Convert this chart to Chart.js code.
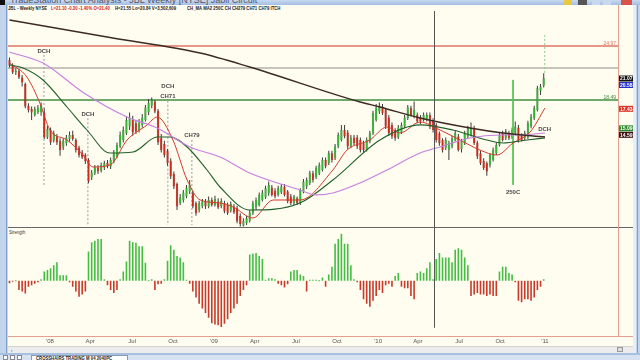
<!DOCTYPE html>
<html>
<head>
<meta charset="utf-8">
<script src="https://cdn.jsdelivr.net/npm/chart.js@4.4.1/dist/chart.umd.min.js"></script>
<style>
  html, body { margin: 0; padding: 0; width: 640px; height: 360px; overflow: hidden;
    background: #c3d5ec; font-family: "Liberation Sans", Arial, sans-serif; }
  .abs { position: absolute; }
  #titlebar { left: 0; top: 0; width: 640px; height: 5px; overflow: hidden;
    background: linear-gradient(#c9daf0, #a3bde2); }
  #titlebar .txt { left: 10px; top: -5px; font-size: 9px; color: #556; white-space: nowrap; }
  #panel { left: 8px; top: 5px; width: 625px; height: 341px; background: #fffcf0; }
  .tiny { white-space: nowrap; font-weight: bold; font-size: 8.5px; line-height: 10px;
    transform: scale(0.5, 0.62); transform-origin: 0 0; }
  canvas { position: absolute; }
</style>
</head>
<body>
<div id="titlebar" class="abs">
  <div class="abs" style="left:0;top:0;width:5px;height:5px;background:#111"></div>
  <div class="abs txt">TradeStation Chart Analysis - JBL Weekly [NYSE] Jabil Circuit</div>
  <div class="abs" style="left:564px;top:0;width:8px;height:5px;background:#e8c840"></div>
  <div class="abs" style="left:578px;top:0;width:9px;height:5px;background:#555"></div>
  <div class="abs" style="left:592px;top:0;width:8px;height:5px;background:#c8d8ee"></div>
  <div class="abs" style="left:603px;top:0;width:8px;height:5px;background:#c8d8ee"></div>
  <div class="abs" style="left:621px;top:0;width:11px;height:5px;background:#d9534a"></div>
</div>
<div class="abs" style="left:6px;top:5px;width:1px;height:350px;background:#7f9fc8"></div>
<div class="abs" style="left:633px;top:5px;width:3px;height:350px;background:#e6eef9"></div>
<div class="abs" style="left:637px;top:5px;width:1px;height:350px;background:#7f9fc8"></div>
<div id="panel" class="abs"></div>

<div class="abs tiny" style="left:8px;top:5px;color:#222">JBL - Weekly NYSE</div>
<div class="abs tiny" style="left:51px;top:5px;color:#d42020">L=21.10 -0.30 -1.40% O=21.40</div>
<div class="abs tiny" style="left:115px;top:5px;color:#222">H=21.55 Lo=20.84 V=3,502,609</div>
<div class="abs tiny" style="left:187px;top:5px;color:#222">CH_MA MA2 250C CH CH279 CH71 CH79 ITCH</div>

<div class="abs" style="left:8px;top:227px;width:625px;height:1px;background:#666"></div>
<div class="abs" style="left:618px;top:5px;width:1px;height:331px;background:#e3a090"></div>
<div class="abs" style="left:8px;top:336px;width:625px;height:1px;background:#e3a090"></div>
<div class="abs tiny" style="left:9px;top:229px;color:#333;font-weight:normal">Strength</div>

<div class="abs" style="left:8px;top:346px;width:625px;height:7px;background:#ececec;border-top:1px solid #d2d2d2;box-sizing:border-box"></div>
<div class="abs tiny" style="left:11px;top:347px;color:#777">&lsaquo;</div>
<div class="abs" style="left:617px;top:347px;width:6px;height:5px;background:#ddd;border:1px solid #999;box-sizing:border-box"></div>
<div class="abs" style="left:0;top:353px;width:640px;height:2px;background:#a8c0e0"></div>
<div class="abs" style="left:0;top:355px;width:640px;height:5px;background:#d6e2f1"></div>
<div class="abs" style="left:3px;top:355px;width:5px;height:5px;background:#fff;border:1px solid #889;box-sizing:border-box"></div>
<div class="abs" style="left:10px;top:355px;width:5px;height:5px;background:#fff;border:1px solid #889;box-sizing:border-box"></div>
<div class="abs" style="left:17px;top:355px;width:5px;height:5px;background:#fff;border:1px solid #889;box-sizing:border-box"></div>
<div class="abs" style="left:31px;top:355px;width:97px;height:6px;background:#fff;border:1px solid #8a9ab0;box-sizing:border-box"></div>
<div class="abs tiny" style="left:36px;top:355px;color:#222">CROSSHAIRS TRADING M 04 2040PC</div>

<canvas id="price" width="626" height="217" style="left:8px;top:11px"></canvas>
<canvas id="strength" width="626" height="118" style="left:8px;top:228px"></canvas>

<script>
'use strict';

// Weekly JBL bars, first bar ~Oct 2007, last ~Jan 2011 (one entry per week).
const opens = [
  23.3, 22.6, 21.8, 22.0, 21.2, 20.4, 17.8, 17.4, 16.7, 17.0,
  17.0, 17.0, 14.0, 14.9, 13.6, 14.1, 13.6, 12.8, 13.3, 13.8,
  14.3, 13.7, 12.8, 12.2, 11.9, 11.3, 9.2, 9.7, 10.4, 10.0,
  10.4, 11.0, 10.5, 11.1, 11.7, 12.9, 13.7, 14.5, 15.3, 16.1,
  15.7, 14.9, 15.5, 16.1, 17.0, 17.8, 18.3, 17.2, 13.9, 13.2,
  12.4, 11.2, 9.6, 8.4, 6.1, 6.5, 6.9, 7.5, 7.3, 6.1,
  5.3, 5.7, 6.3, 5.7, 6.5, 5.9, 6.3, 5.7, 6.1, 5.9,
  5.2, 5.7, 5.5, 4.6, 3.4, 3.7, 4.0, 4.9, 5.6, 5.9,
  6.5, 6.8, 7.3, 8.0, 7.6, 7.1, 7.4, 8.1, 7.5, 6.9,
  6.1, 6.7, 6.1, 7.5, 8.1, 8.5, 9.7, 9.2, 9.7, 10.1,
  11.3, 10.9, 12.1, 11.5, 12.9, 13.7, 14.9, 14.6, 12.9, 14.0,
  14.0, 13.7, 13.3, 12.5, 13.5, 14.5, 16.1, 17.1, 17.7, 17.3,
  16.4, 15.5, 14.9, 14.0, 14.6, 15.3, 16.3, 17.5, 16.5, 16.7,
  16.4, 16.1, 16.2, 16.7, 16.1, 15.5, 14.5, 13.7, 12.7, 12.5,
  12.9, 13.7, 14.1, 12.6, 13.3, 14.1, 14.3, 15.1, 13.4, 12.1,
  11.2, 10.9, 10.7, 11.3, 12.1, 13.1, 14.5, 13.9, 14.5, 14.0,
  14.5, 15.2, 14.2, 13.9, 14.0, 15.3, 16.3, 17.3, 19.6, 20.2
];
const highs = [
  23.6, 22.9, 22.3, 22.2, 21.5, 20.6, 18.1, 17.7, 17.7, 17.9,
  18.2, 17.5, 15.4, 15.2, 14.8, 14.4, 13.9, 13.9, 14.3, 14.7,
  14.8, 13.9, 13.0, 12.5, 12.1, 11.5, 10.1, 10.7, 10.7, 11.0,
  11.2, 11.3, 11.6, 12.5, 13.4, 14.7, 15.3, 16.5, 17.0, 16.6,
  16.1, 16.2, 16.8, 17.9, 18.6, 18.8, 18.5, 17.4, 14.4, 13.6,
  12.6, 11.5, 9.9, 8.6, 7.2, 7.7, 8.3, 8.9, 7.6, 6.3,
  6.4, 6.6, 6.6, 6.9, 6.8, 7.0, 6.7, 6.7, 6.4, 6.2,
  6.3, 6.0, 5.8, 4.9, 4.3, 4.6, 5.3, 6.4, 6.8, 7.4,
  7.7, 8.2, 8.7, 8.3, 7.9, 8.2, 8.4, 8.4, 7.7, 7.2,
  7.1, 6.9, 7.9, 9.0, 9.2, 10.0, 10.0, 10.6, 11.0, 11.6,
  11.6, 12.4, 12.4, 13.2, 14.6, 15.5, 15.5, 14.9, 14.3, 14.3,
  14.3, 14.0, 13.6, 14.0, 14.8, 17.2, 18.0, 18.2, 18.0, 17.5,
  16.7, 15.8, 15.1, 15.5, 15.8, 16.7, 17.9, 17.8, 18.3, 17.0,
  16.7, 17.0, 17.0, 17.0, 16.3, 15.7, 14.7, 13.9, 14.0, 13.6,
  14.2, 14.8, 14.4, 13.8, 14.8, 15.4, 15.8, 15.4, 13.6, 12.4,
  11.5, 11.1, 12.1, 12.8, 13.4, 14.6, 14.8, 15.0, 14.8, 15.2,
  15.9, 15.5, 14.5, 14.8, 16.0, 16.8, 17.8, 20.2, 20.4, 21.7
];
const lows = [
  22.4, 21.6, 21.5, 21.0, 20.1, 17.5, 17.0, 16.1, 16.5, 16.8,
  16.6, 13.8, 13.8, 13.1, 13.4, 13.1, 11.8, 12.5, 13.0, 13.5,
  13.6, 12.2, 11.6, 11.4, 10.8, 8.5, 8.9, 9.5, 9.6, 9.8,
  10.1, 10.3, 10.2, 10.9, 11.5, 12.7, 13.4, 14.3, 14.9, 14.2,
  14.4, 14.6, 15.2, 15.9, 16.7, 17.5, 16.9, 13.1, 12.2, 11.6,
  10.6, 9.0, 7.8, 5.3, 5.9, 6.2, 6.7, 7.2, 5.5, 4.6,
  5.0, 5.5, 5.4, 5.5, 5.7, 5.7, 5.4, 5.5, 4.9, 4.7,
  5.0, 4.8, 3.7, 3.3, 3.3, 3.5, 3.8, 4.7, 5.3, 5.7,
  6.3, 6.6, 7.0, 6.9, 6.7, 6.9, 7.2, 6.9, 6.1, 5.9,
  5.9, 5.9, 5.9, 7.3, 7.8, 8.3, 8.6, 9.0, 9.5, 9.9,
  10.3, 10.7, 11.0, 11.3, 12.7, 13.5, 13.9, 12.6, 12.7, 13.1,
  12.6, 12.2, 12.2, 12.3, 13.3, 14.3, 15.9, 16.8, 16.7, 15.0,
  14.2, 13.8, 13.6, 13.8, 14.4, 15.1, 16.1, 16.5, 16.3, 15.7,
  15.6, 15.9, 15.9, 15.0, 14.6, 13.4, 13.0, 12.2, 12.5, 11.3,
  12.7, 13.5, 12.3, 12.2, 13.1, 13.9, 14.1, 13.1, 11.4, 10.7,
  10.1, 9.4, 10.4, 11.1, 11.9, 12.9, 13.5, 13.7, 13.7, 13.8,
  14.3, 13.4, 13.5, 13.7, 13.8, 15.1, 16.1, 17.1, 19.1, 20.0
];
const closes = [
  22.6, 21.8, 22.0, 21.2, 20.6, 17.7, 17.3, 17.0, 17.4, 17.6,
  17.9, 14.0, 15.0, 13.4, 14.5, 13.4, 12.5, 13.6, 14.0, 14.3,
  13.8, 12.5, 11.9, 11.6, 11.1, 8.7, 9.8, 10.4, 9.9, 10.7,
  10.9, 10.5, 11.3, 12.2, 13.1, 14.3, 14.9, 16.1, 16.4, 14.6,
  14.7, 15.8, 16.4, 17.6, 18.2, 18.5, 17.1, 13.4, 12.5, 11.9,
  10.9, 9.3, 8.1, 5.7, 6.8, 7.4, 8.0, 8.3, 5.7, 4.9,
  6.1, 6.3, 5.7, 6.5, 5.9, 6.6, 5.6, 6.4, 5.1, 4.9,
  6.0, 5.0, 3.9, 3.6, 4.0, 4.3, 5.0, 6.1, 6.5, 7.1,
  7.4, 7.9, 8.3, 7.1, 6.9, 7.9, 8.1, 7.1, 6.3, 6.1,
  6.9, 6.1, 7.7, 8.7, 8.9, 9.7, 8.9, 10.3, 10.7, 11.3,
  10.5, 12.1, 11.3, 12.9, 14.3, 14.9, 14.1, 12.9, 14.0, 13.3,
  12.9, 12.5, 12.5, 13.7, 14.5, 16.9, 17.6, 17.8, 16.9, 15.3,
  14.5, 14.1, 13.9, 15.2, 15.5, 16.4, 17.6, 16.7, 17.3, 15.9,
  15.9, 16.7, 16.7, 15.3, 14.9, 13.7, 13.3, 12.5, 13.7, 13.3,
  13.9, 14.5, 12.5, 13.6, 14.5, 15.1, 15.1, 13.3, 11.7, 10.9,
  10.3, 9.9, 11.9, 12.5, 13.1, 14.3, 13.7, 14.7, 13.9, 14.9,
  15.3, 13.7, 13.7, 14.5, 15.7, 16.5, 17.5, 19.9, 20.1, 21.1
];

// Strength oscillator, one bar per week
const strength = [
  -8, -3, 0, -30, -35, -42, -20, -15, -10, -5,
  5, 30, 35, 40, 50, 60, 18, 18, 18, -5,
  -20, -35, -52, -45, -35, 95, 125, 130, 135, 135,
  5, -15, -30, -40, -30, 5, 30, 62, 130, 125,
  123, 112, 112, 58, 0, 5, -30, -12, -10, 5,
  65, 115, 100, 80, 75, 60, 3, -10, -35, -55,
  -75, -90, -105, -120, -138, -142, -145, -150, -140, -125,
  -105, -90, -75, -50, -30, -15, 85, 88, 90, 80,
  70, 3, 8, 8, 5, -10, -15, -22, -12, 30,
  35, 35, 20, 15, -35, 3, 2, 2, 0, 10,
  -20, 20, 45, 120, 135, 152, 120, 120, 50, 5,
  -5, -30, -60, -75, -85, -65, -50, -30, -40, -15,
  -10, -20, 15, 25, -20, -25, -25, -50, -60, 25,
  30, 25, 40, 60, 5, 70, 90, 75, 75, 75,
  60, 100, 105, 100, 75, 50, -50, -45, -40, -45,
  -45, -50, -45, -50, -50, 30, 45, 45, 25, 20,
  -5, -65, -70, -60, -60, -65, -55, -30, -20, 5
];

// Moving averages as [week, price]
const maFast = [[0, 22.93], [5.5, 21.25], [9.6, 18.13], [12.8, 14.89], [18.2, 13.69], [23.3, 11.89],
  [26.4, 10.45], [31.8, 10.69], [37.2, 13.69], [43.5, 15.49], [46.7, 16.45], [51.7, 13.69],
  [56.2, 8.89], [60.3, 6.5], [66.6, 6.13], [70.8, 5.65], [77, 4.33], [83.4, 6.49], [91.9, 6.49],
  [102.3, 10.09], [106.8, 12.49], [114, 13.69], [119.4, 15.25], [123.5, 14.53], [129.9, 15.85],
  [136.2, 14.89], [142.5, 13.69], [148.8, 12.49], [154.2, 11.89], [159.3, 13.33], [164.7, 14.65],
  [169.4, 17.53]];
const maMid = [[0, 22.69], [4.3, 22.33], [10.6, 20.89], [18.2, 17.65], [24.5, 14.89], [31.8, 12.13],
  [39.1, 12.25], [46.7, 14.05], [50.8, 14.05], [56.2, 12.85], [62.5, 10.09], [66.6, 8.05],
  [76, 5.29], [91.9, 6.13], [102.3, 8.89], [117.2, 13.69], [129.9, 15.5], [140.3, 14.89],
  [151, 13.69], [156.1, 13.33], [163.7, 13.69], [169.4, 13.93]];
const maSlow = [[0, 24.25], [10.6, 22.93], [23.3, 19.4], [37.2, 16.45], [46.7, 15.13], [57.1, 12.85],
  [66.6, 11.65], [76, 9.73], [91.9, 7.69], [97, 7.1], [102.3, 7.33], [110.9, 8.53], [119.4, 10.09],
  [129.9, 12.13], [136.2, 12.85], [145.7, 13.93], [155.2, 14.29], [161.5, 14.29], [169.4, 14.53]];
const maLong = [[0, 28.09], [32.7, 25.93], [60.3, 24.13], [76, 22.45], [110.9, 18.25], [117.2, 17.65],
  [129.9, 16.33], [145.7, 15.13], [156.1, 14.53], [169.4, 14.05]];

// Alert levels and markers
const levels = [[24.97, '#e07565', '24.97'], [22.33, '#b4b2aa', ''], [18.49, '#3f8f3f', '18.49']];
const dashMarks = [[10.9, 23.9, 8.3, '#9a9a9a'], [24.8, 16.3, 3.5, '#9a9a9a'], [50.1, 18.4, 3.5, '#9a9a9a'],
  [57.7, 13.7, 3.5, '#9a9a9a'], [169.3, 26.3, 21.5, '#8fd08f']];
const markLine250 = [159.3, 20.9, 8.3];
const markText = [['DCH', 10.9, 24.37], ['DCH', 24.8, 16.81], ['DCH', 50.1, 20.17], ['CH71', 50.1, 18.97],
  ['CH79', 57.7, 14.29], ['DCH', 169.3, 15.01], ['250C', 159.3, 7.45]];
const sideValues = [21.07, 20.58, 17.43, 15.09, 14.59];
const sideColors = ['#111111', '#2430c8', '#dc3424', '#2c8a2c', '#3c1414'];
const cursorAt = 134.3;

const tickPos = [12.8, 25.5, 38.8, 51.7, 64.7, 77.6, 90.6, 103.6, 116.6, 129.2, 142.2, 155.2, 169.4];
const tickLabels = ["'08", 'Apr', 'Jul', 'Oct', "'09", 'Apr', 'Jul', 'Oct', "'10", 'Apr', 'Jul', 'Oct', "'11"];

const X_MIN = -0.47, X_MAX = 192.5;
const UP = '#35b535', DOWN = '#cc2b1d';
const tinyFont = '"Liberation Sans", Arial, sans-serif';

function pts(list) { return list.map(function (p) { return { x: p[0], y: p[1] }; }); }

function maLine(list, color, width) {
  return { type: 'line', data: pts(list), borderColor: color, borderWidth: width,
    pointRadius: 0, tension: 0.4, cubicInterpolationMode: 'monotone', order: 1 };
}

function segment(x0, y0, x1, y1, color, width, dash, order) {
  return { type: 'line', data: [{ x: x0, y: y0 }, { x: x1, y: y1 }], borderColor: color,
    borderWidth: width, borderDash: dash, pointRadius: 0, tension: 0, order: order };
}

function cursorLine(chart) {
  const ctx = chart.ctx, a = chart.chartArea;
  const cx = Math.round(chart.scales.x.getPixelForValue(cursorAt)) + 0.5;
  ctx.save();
  ctx.strokeStyle = '#555';
  ctx.lineWidth = 1;
  ctx.beginPath();
  ctx.moveTo(cx, a.top);
  ctx.lineTo(cx, a.bottom);
  ctx.stroke();
  ctx.restore();
}

const priceOverlay = {
  id: 'priceOverlay',
  afterDatasetsDraw(chart) {
    const ctx = chart.ctx, a = chart.chartArea, x = chart.scales.x, y = chart.scales.y;
    cursorLine(chart);
    ctx.save();
    ctx.font = 'bold 6px ' + tinyFont;
    ctx.fillStyle = '#4a4a4a';
    ctx.textAlign = 'center';
    ctx.textBaseline = 'middle';
    markText.forEach(function (m) { ctx.fillText(m[0], x.getPixelForValue(m[1]), y.getPixelForValue(m[2])); });

    // level values sit just above their lines, at the right edge
    ctx.font = '5px ' + tinyFont;
    ctx.textAlign = 'right';
    ctx.textBaseline = 'bottom';
    levels.forEach(function (l) {
      if (!l[2]) return;
      ctx.fillStyle = l[1];
      ctx.fillText(l[2], a.right - 2, y.getPixelForValue(l[0]));
    });

    // last-value boxes on the right axis, pushed apart so they don't overlap
    ctx.font = 'bold 5px ' + tinyFont;
    ctx.textAlign = 'left';
    ctx.textBaseline = 'middle';
    let prev = -100;
    sideValues.forEach(function (v, i) {
      const py = Math.max(y.getPixelForValue(v), prev + 6.5);
      prev = py;
      ctx.fillStyle = sideColors[i];
      ctx.fillRect(a.right + 1, py - 3, 14, 6);
      ctx.fillStyle = '#fff';
      ctx.fillText(v.toFixed(2), a.right + 2, py + 0.3);
    });
    ctx.restore();
  }
};

const weeks = closes.map(function (_, i) { return i; });
const candleColors = weeks.map(function (i) { return closes[i] >= opens[i] ? UP : DOWN; });
const candleEdges = weeks.map(function (i) { return closes[i] >= opens[i] ? '#1f7a1f' : '#8a1a10'; });

const priceSets = [
  { type: 'bar', data: weeks.map(function (i) { return { x: i, y: [lows[i], highs[i]] }; }),
    backgroundColor: '#3a3a3a', barThickness: 1, grouped: false, inflateAmount: 0, order: 4 },
  { type: 'bar', data: weeks.map(function (i) { return { x: i, y: [opens[i], closes[i]] }; }),
    backgroundColor: candleColors, borderColor: candleEdges, borderWidth: 0.4,
    barThickness: 2.4, grouped: false, inflateAmount: 0, minBarLength: 1, order: 3 },
  maLine(maLong, '#3d2a22', 1.4),
  maLine(maSlow, '#c77fe0', 1.1),
  maLine(maMid, '#22602a', 1.1),
  maLine(maFast, '#d23b2a', 1),
  segment(markLine250[0], markLine250[1], markLine250[0], markLine250[2], '#55c455', 1, [], 2)
];
levels.forEach(function (l) { priceSets.push(segment(X_MIN, l[0], X_MAX, l[0], l[1], 1.4, [], 6)); });
dashMarks.forEach(function (d) { priceSets.push(segment(d[0], d[1], d[0], d[2], d[3], 1, [2, 2], 5)); });

new Chart(document.getElementById('price'), {
  type: 'bar',
  data: { datasets: priceSets },
  options: {
    responsive: false,
    animation: false,
    events: [],
    layout: { padding: { left: 0, right: 16, top: 0, bottom: 0 } },
    plugins: { legend: { display: false }, tooltip: { enabled: false } },
    scales: {
      x: { type: 'linear', min: X_MIN, max: X_MAX, offset: false, display: false },
      y: { min: 3.13, max: 29.17, display: false }
    }
  },
  plugins: [priceOverlay]
});

new Chart(document.getElementById('strength'), {
  type: 'bar',
  data: {
    datasets: [{
      data: weeks.map(function (i) { return { x: i, y: strength[i] }; }),
      backgroundColor: strength.map(function (v) { return v >= 0 ? '#43be43' : '#c83a2a'; }),
      barThickness: 1.6, grouped: false, inflateAmount: 0, minBarLength: 1
    }]
  },
  options: {
    responsive: false,
    animation: false,
    events: [],
    layout: { padding: { left: 0, right: 16, top: 0, bottom: 0 } },
    plugins: { legend: { display: false }, tooltip: { enabled: false } },
    scales: {
      x: {
        type: 'linear', min: X_MIN, max: X_MAX, offset: false,
        grid: { display: false }, border: { display: false },
        // the month ticks sit where the chart's calendar labels are
        afterBuildTicks: function (s) { s.ticks = tickPos.map(function (v) { return { value: v }; }); },
        ticks: { autoSkip: false, maxRotation: 0, padding: 1.5, color: '#555',
          font: { size: 6, family: tinyFont },
          callback: function (v, i) { return tickLabels[i]; } }
      },
      y: { min: -153, max: 171, display: false }
    }
  },
  plugins: [{ id: 'cursor', afterDatasetsDraw: cursorLine }]
});
</script>
</body>
</html>
